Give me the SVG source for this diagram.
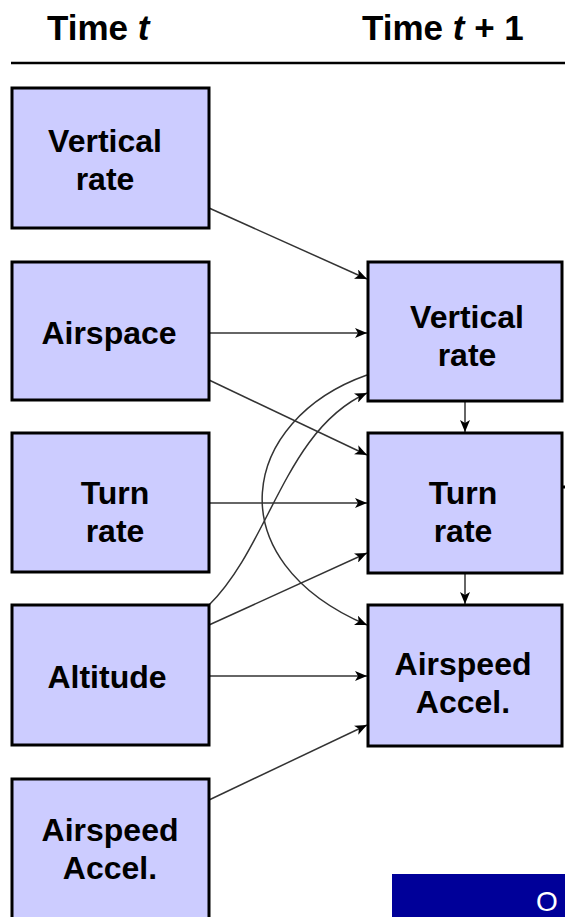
<svg xmlns="http://www.w3.org/2000/svg" width="565" height="917" viewBox="0 0 565 917">
<defs>
<style>
.box{fill:#ccccff;stroke:#000;stroke-width:3}
.lbl{font-family:"Liberation Sans",Arial,sans-serif;font-weight:bold;font-size:32px;fill:#000;text-anchor:middle}
.hdr{font-family:"Liberation Sans",Arial,sans-serif;font-weight:bold;font-size:35px;fill:#000}
.c{fill:none;stroke:#333;stroke-width:1.5}
</style>
<marker id="ah" viewBox="0 0 12 10" refX="12" refY="5" markerWidth="12" markerHeight="10" markerUnits="userSpaceOnUse" orient="auto">
<path d="M0,0 L12,5 L0,10 L3,5 Z" fill="#000"/>
</marker>
</defs>
<rect width="565" height="917" fill="#fff"/>
<g id="header">
<text class="hdr" x="47" y="40">Time <tspan font-style="italic">t</tspan></text>
<text class="hdr" x="362" y="40">Time <tspan font-style="italic">t</tspan> + 1</text>
<line x1="11" y1="63" x2="565" y2="63" stroke="#000" stroke-width="2.5"/>
</g>
<g id="connectors">
<line class="c" x1="209" y1="208" x2="367" y2="279" marker-end="url(#ah)"/>
<line class="c" x1="209" y1="333" x2="367" y2="333" marker-end="url(#ah)"/>
<line class="c" x1="209" y1="380" x2="367" y2="455" marker-end="url(#ah)"/>
<line class="c" x1="209" y1="503" x2="367" y2="503" marker-end="url(#ah)"/>
<path class="c" d="M209,605 C270,545 285,430 367,393" marker-end="url(#ah)"/>
<path class="c" d="M367,375 C240,420 215,560 367,625" marker-end="url(#ah)"/>
<line class="c" x1="209" y1="625" x2="367" y2="553" marker-end="url(#ah)"/>
<line class="c" x1="209" y1="676" x2="367" y2="676" marker-end="url(#ah)"/>
<line class="c" x1="209" y1="800" x2="367" y2="725" marker-end="url(#ah)"/>
<line class="c" x1="465" y1="402" x2="465" y2="432" marker-end="url(#ah)"/>
<line class="c" x1="465" y1="573" x2="465" y2="604" marker-end="url(#ah)"/>
<line x1="561" y1="487" x2="565" y2="487" stroke="#000" stroke-width="3"/>
</g>
<g id="l-vertical-rate">
<rect class="box" x="12" y="88" width="197" height="140"/>
<text class="lbl" x="105" y="152">Vertical</text>
<text class="lbl" x="105" y="190">rate</text>
</g>
<g id="l-airspace">
<rect class="box" x="12" y="262" width="197" height="138"/>
<text class="lbl" x="109" y="344">Airspace</text>
</g>
<g id="l-turn-rate">
<rect class="box" x="12" y="433" width="197" height="139"/>
<text class="lbl" x="115" y="504">Turn</text>
<text class="lbl" x="115" y="542">rate</text>
</g>
<g id="l-altitude">
<rect class="box" x="12" y="605" width="197" height="140"/>
<text class="lbl" x="107" y="688">Altitude</text>
</g>
<g id="l-airspeed-accel">
<rect class="box" x="12" y="779" width="197" height="150"/>
<text class="lbl" x="110" y="841">Airspeed</text>
<text class="lbl" x="110" y="879">Accel.</text>
</g>
<g id="r-vertical-rate">
<rect class="box" x="368" y="262" width="194" height="139"/>
<text class="lbl" x="467" y="328">Vertical</text>
<text class="lbl" x="467" y="366">rate</text>
</g>
<g id="r-turn-rate">
<rect class="box" x="368" y="433" width="194" height="140"/>
<text class="lbl" x="463" y="504">Turn</text>
<text class="lbl" x="463" y="542">rate</text>
</g>
<g id="r-airspeed-accel">
<rect class="box" x="368" y="605" width="194" height="141"/>
<text class="lbl" x="463" y="675">Airspeed</text>
<text class="lbl" x="463" y="713">Accel.</text>
</g>
<g id="corner">
<rect x="392" y="874" width="173" height="43" fill="#000099"/>
<text x="536" y="911" font-family="Liberation Sans,Arial,sans-serif" font-size="28" fill="#fff">O</text>
</g>
</svg>
